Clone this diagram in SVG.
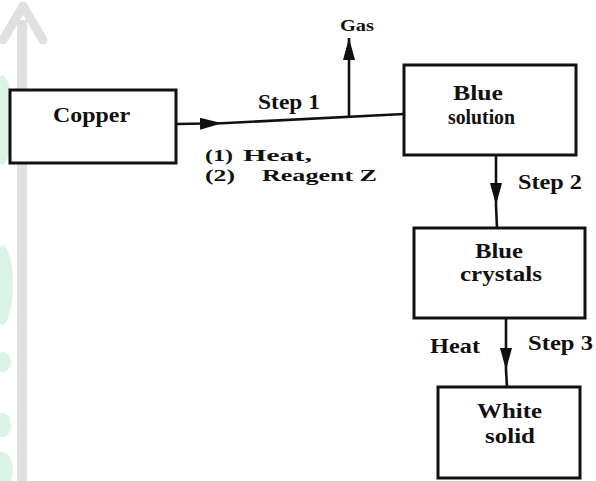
<svg xmlns="http://www.w3.org/2000/svg" width="596" height="481" viewBox="0 0 596 481">
<style>
.box{fill:#fff;stroke:#111;stroke-width:3}
.t{font-family:"Liberation Serif","Times New Roman",serif;font-weight:bold;fill:#111;font-size:20px}
.s{font-size:17px}
.c{fill:none;stroke:#111;stroke-width:2.6}
.wm{fill:#dcf3e7}
</style>
<defs>
<marker id="ah" viewBox="0 0 22 12" refX="22" refY="6" markerWidth="22" markerHeight="12" markerUnits="userSpaceOnUse" orient="auto">
<path d="M0,0 L22,6 L0,12 z" fill="#111"/>
</marker>
</defs>
<rect width="596" height="481" fill="#fff"/>
<g id="watermark">
<ellipse class="wm" cx="2" cy="120" rx="11" ry="45"/>
<ellipse class="wm" cx="2" cy="285" rx="11" ry="40"/>
<ellipse class="wm" cx="3" cy="362" rx="8" ry="10"/>
<ellipse class="wm" cx="3" cy="425" rx="8" ry="12"/>
<ellipse class="wm" cx="2" cy="470" rx="11" ry="18"/>
<path d="M22,20 L22,481" stroke="#e0e0e0" stroke-width="10" fill="none"/>
<path d="M3,40 L23,6 L43,40" stroke="#e0e0e0" stroke-width="9" fill="none" stroke-linecap="round" stroke-linejoin="round"/>
</g>
<g id="connectors">
<path class="c" d="M176,124 L222,123.3" marker-end="url(#ah)"/>
<path class="c" d="M222,123.3 L404,114"/>
<path class="c" d="M349,116.3 L349,38" marker-end="url(#ah)"/>
<path class="c" d="M496,155 L496,205" marker-end="url(#ah)"/>
<path class="c" d="M496,205 L497,228"/>
<path class="c" d="M506,318 L506,370" marker-end="url(#ah)"/>
<path class="c" d="M506,370 L507,387"/>
</g>
<g id="copper">
<rect class="box" x="10" y="90" width="166" height="73"/>
<text class="t" x="53" y="122" textLength="77" lengthAdjust="spacingAndGlyphs">Copper</text>
</g>
<g id="blue-solution">
<rect class="box" x="404" y="65" width="172" height="90"/>
<text class="t" x="453" y="100" textLength="50" lengthAdjust="spacingAndGlyphs">Blue</text>
<text class="t" x="448" y="124" textLength="67" lengthAdjust="spacingAndGlyphs">solution</text>
</g>
<g id="blue-crystals">
<rect class="box" x="414" y="228" width="171" height="90"/>
<text class="t" x="475" y="258" textLength="48" lengthAdjust="spacingAndGlyphs">Blue</text>
<text class="t" x="460" y="281" textLength="82" lengthAdjust="spacingAndGlyphs">crystals</text>
</g>
<g id="white-solid">
<rect class="box" x="438" y="387" width="142" height="91"/>
<text class="t" x="477" y="418" textLength="65" lengthAdjust="spacingAndGlyphs">White</text>
<text class="t" x="485" y="443" textLength="50" lengthAdjust="spacingAndGlyphs">solid</text>
</g>
<g id="labels">
<text class="t s" x="340" y="31" textLength="34" lengthAdjust="spacingAndGlyphs">Gas</text>
<text class="t" x="258" y="109" textLength="62" lengthAdjust="spacingAndGlyphs">Step 1</text>
<text class="t s" x="205" y="161" textLength="28" lengthAdjust="spacingAndGlyphs">(1)</text>
<text class="t s" x="243" y="161" textLength="69" lengthAdjust="spacingAndGlyphs">Heat,</text>
<text class="t s" x="205" y="181" textLength="30" lengthAdjust="spacingAndGlyphs">(2)</text>
<text class="t s" x="262" y="181" textLength="115" lengthAdjust="spacingAndGlyphs">Reagent Z</text>
<text class="t" x="518" y="189" textLength="64" lengthAdjust="spacingAndGlyphs">Step 2</text>
<text class="t" x="430" y="353" textLength="50" lengthAdjust="spacingAndGlyphs">Heat</text>
<text class="t" x="528" y="350" textLength="65" lengthAdjust="spacingAndGlyphs">Step 3</text>
</g>
</svg>
